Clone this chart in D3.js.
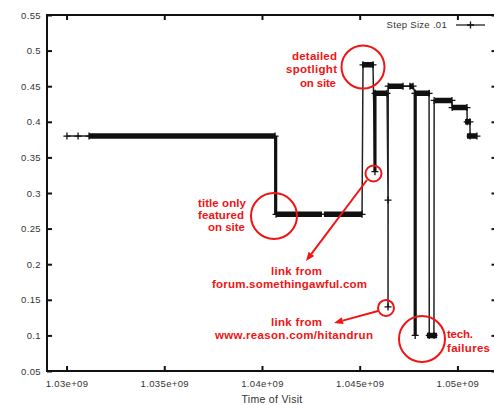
<!DOCTYPE html>
<html><head><meta charset="utf-8">
<script src="https://cdn.jsdelivr.net/npm/d3@7"></script>
<style>body{margin:0;background:#fff}svg{display:block}</style>
</head><body><svg id="c" width="494" height="405"></svg>
<script>
// ---- data ----
const xTicks = [1.03e9, 1.035e9, 1.04e9, 1.045e9, 1.05e9];
const xTickLabels = ["1.03e+09", "1.035e+09", "1.04e+09", "1.045e+09", "1.05e+09"];
const yTicks = [0.05, 0.1, 0.15, 0.2, 0.25, 0.3, 0.35, 0.4, 0.45, 0.5, 0.55];
const yTickLabels = ["0.05", "0.1", "0.15", "0.2", "0.25", "0.3", "0.35", "0.4", "0.45", "0.5", "0.55"];
const seriesName = "Step Size .01";
const xLabel = "Time of Visit";

// visits (time of visit, value) in time order
const visitTimes = [1.03002e9, 1.03059e9, 1.03115e9, 1.04067e9, 1.04072e9, 1.04512e9, 1.04517e9, 1.04568e9,
  1.04578e9, 1.04579e9, 1.04640e9, 1.04645e9, 1.04645e9, 1.04646e9, 1.04722e9, 1.04757e9, 1.04773e9,
  1.04783e9, 1.04784e9, 1.04785e9, 1.04855e9, 1.04856e9, 1.04880e9, 1.04881e9, 1.04972e9, 1.04973e9,
  1.05049e9, 1.05050e9, 1.05064e9, 1.05065e9, 1.05100e9];
const visitValues = [0.38, 0.38, 0.38, 0.38, 0.27, 0.27, 0.48, 0.48, 0.33, 0.44, 0.44, 0.29, 0.14, 0.45,
  0.45, 0.45, 0.45, 0.44, 0.10, 0.44, 0.44, 0.10, 0.10, 0.43, 0.43, 0.42, 0.42, 0.40, 0.40, 0.38, 0.38];

// densely sampled runs (markers overlap into a solid bar)
const runStart = [1.03115e9, 1.04072e9, 1.04317e9, 1.04512e9, 1.04568e9, 1.04645e9, 1.04757e9, 1.04783e9, 1.04844e9, 1.04885e9, 1.04972e9, 1.05039e9, 1.05049e9];
const runEnd   = [1.04067e9, 1.04307e9, 1.04512e9, 1.04573e9, 1.04640e9, 1.04722e9, 1.04773e9, 1.04860e9, 1.04896e9, 1.04972e9, 1.05049e9, 1.05069e9, 1.05100e9];
const runValue = [0.38, 0.27, 0.27, 0.48, 0.44, 0.45, 0.45, 0.44, 0.10, 0.43, 0.42, 0.40, 0.38];

// repeated back-and-forth jumps (dense vertical strokes)
const burstTime = [1.04070e9, 1.04578e9, 1.04784e9];
const burstLow  = [0.27, 0.33, 0.10];
const burstHigh = [0.38, 0.44, 0.44];

// annotated points (time, value)
const noteCircleTime  = [1.045169e9, 1.045706e9, 1.040615e9, 1.046346e9, 1.048188e9];
const noteCircleValue = [0.477, 0.3274, 0.2677, 0.1385, 0.0949];

const noteLines = ["detailed", "spotlight", "on site", "title only", "featured", "on site",
  "link from", "forum.somethingawful.com", "link from", "www.reason.com/hitandrun", "tech.", "failures"];

// ---- layout ----
const svg = d3.select("#c");
const L = 47, T = 15, R = 496.5, B = 371;
const x = d3.scaleLinear().domain([1.029e9, 1.052e9]).range([L, R]);
const y = d3.scaleLinear().domain([0.05, 0.55]).range([B, T]);
const INK = "#111", RED = "#f01414";
const FONT = "'Liberation Sans', Arial, sans-serif";

svg.append("rect").attr("width", 494).attr("height", 405).attr("fill", "#fff");
svg.append("defs").append("clipPath").attr("id", "pa")
  .append("rect").attr("x", L).attr("y", T - 4).attr("width", R - L).attr("height", B - T + 8);

function styleAxis(g) {
  g.select(".domain").remove();
  g.selectAll(".tick line").attr("stroke", INK).attr("stroke-width", 2);
  g.selectAll(".tick text").attr("fill", "#333").attr("font-family", FONT).attr("font-size", 9.5)
    .attr("letter-spacing", 0.35);
}
svg.append("g").attr("transform", `translate(${L},0)`)
  .call(d3.axisLeft(y).tickValues(yTicks).tickFormat((d, i) => yTickLabels[i]).tickSize(-5).tickSizeOuter(0).tickPadding(6))
  .call(styleAxis);
svg.append("g").attr("transform", `translate(0,${B})`)
  .call(d3.axisBottom(x).tickValues(xTicks).tickFormat((d, i) => xTickLabels[i]).tickSize(-5).tickSizeOuter(0).tickPadding(9.2))
  .call(styleAxis);
svg.append("g").attr("transform", `translate(0,${T})`)
  .call(d3.axisTop(x).tickValues(xTicks).tickFormat("").tickSize(-5).tickSizeOuter(0))
  .call(styleAxis);
svg.append("g").attr("transform", `translate(${R},0)`)
  .call(d3.axisRight(y).tickValues(yTicks).tickFormat("").tickSize(-5).tickSizeOuter(0))
  .call(styleAxis);

svg.append("rect").attr("x", L).attr("y", T).attr("width", R - L).attr("height", B - T)
  .attr("fill", "none").attr("stroke", INK).attr("stroke-width", 2);

svg.append("text").attr("x", 272).attr("y", 403).attr("text-anchor", "middle")
  .attr("font-family", FONT).attr("font-size", 10.5).attr("letter-spacing", 0.3)
  .attr("fill", "#333").text(xLabel);

// ---- series ----
const plot = svg.append("g").attr("clip-path", "url(#pa)");
const pts = visitTimes.map((t, i) => [t, visitValues[i]]);
plot.append("path").datum(pts)
  .attr("d", d3.line().x(d => x(d[0])).y(d => y(d[1])))
  .attr("fill", "none").attr("stroke", "#222").attr("stroke-width", 1.5);

plot.selectAll("line.burst").data(burstTime).join("line").attr("class", "burst")
  .attr("x1", d => x(d)).attr("x2", d => x(d))
  .attr("y1", (d, i) => y(burstLow[i])).attr("y2", (d, i) => y(burstHigh[i]))
  .attr("stroke", INK).attr("stroke-width", 3.2);

plot.selectAll("line.run").data(runStart).join("line").attr("class", "run")
  .attr("x1", d => x(d)).attr("x2", (d, i) => x(runEnd[i]))
  .attr("y1", (d, i) => y(runValue[i])).attr("y2", (d, i) => y(runValue[i]))
  .attr("stroke", INK).attr("stroke-width", 5.5);

const plus = "M-3.5,0h7M0,-3.5v7";
plot.selectAll("path.pt").data(pts).join("path").attr("class", "pt")
  .attr("transform", d => `translate(${x(d[0])},${y(d[1])})`)
  .attr("d", plus).attr("stroke", INK).attr("stroke-width", 1.3);

// legend
svg.append("text").attr("x", 447).attr("y", 28).attr("text-anchor", "end")
  .attr("font-family", FONT).attr("font-size", 9.5).attr("letter-spacing", 0.3)
  .attr("fill", "#333").text(seriesName);
svg.append("line").attr("x1", 456).attr("x2", 485).attr("y1", 25).attr("y2", 25)
  .attr("stroke", "#222").attr("stroke-width", 1.3);
svg.append("path").attr("transform", "translate(470.5,25)").attr("d", plus)
  .attr("stroke", INK).attr("stroke-width", 1.3);

// ---- annotations ----
const circleR = [21.5, 8, 23, 8, 23];
svg.selectAll("circle.note").data(noteCircleTime).join("circle").attr("class", "note")
  .attr("cx", d => x(d)).attr("cy", (d, i) => y(noteCircleValue[i])).attr("r", (d, i) => circleR[i])
  .attr("fill", "none").attr("stroke", RED).attr("stroke-width", 2);

// text layout: [x, baseline, width, anchor]
const noteLayout = [
  [337, 60, 45, "end"], [337, 73, 51, "end"], [336, 87, 36, "end"],
  [246, 207, 48, "end"], [244, 219, 46, "end"], [245, 231, 37, "end"],
  [296.5, 275, 51, "middle"], [289.5, 288, 155, "middle"],
  [296.5, 326, 51, "middle"], [294, 339, 158, "middle"],
  [447, 338, 26, "start"], [447, 352, 43, "start"]
];
svg.selectAll("text.note").data(noteLines).join("text").attr("class", "note")
  .attr("x", (d, i) => noteLayout[i][0]).attr("y", (d, i) => noteLayout[i][1])
  .attr("text-anchor", (d, i) => noteLayout[i][3])
  .attr("textLength", (d, i) => noteLayout[i][2]).attr("lengthAdjust", "spacing")
  .attr("font-family", FONT).attr("font-weight", "bold").attr("font-size", 11.5)
  .attr("fill", RED).text(d => d);

function arrow(x1, y1, x2, y2) {
  const a = Math.atan2(y2 - y1, x2 - x1), len = 9, w = 3.5;
  const bx = x2 - len * Math.cos(a), by = y2 - len * Math.sin(a);
  svg.append("line").attr("x1", x1).attr("y1", y1).attr("x2", bx).attr("y2", by)
    .attr("stroke", RED).attr("stroke-width", 2);
  svg.append("path").attr("d", `M${x2},${y2}L${bx - w * Math.sin(a)},${by + w * Math.cos(a)}L${bx + w * Math.sin(a)},${by - w * Math.cos(a)}Z`)
    .attr("fill", RED);
}
arrow(367, 180, 306, 261);
arrow(378, 311, 334, 323);
</script></body></html>
